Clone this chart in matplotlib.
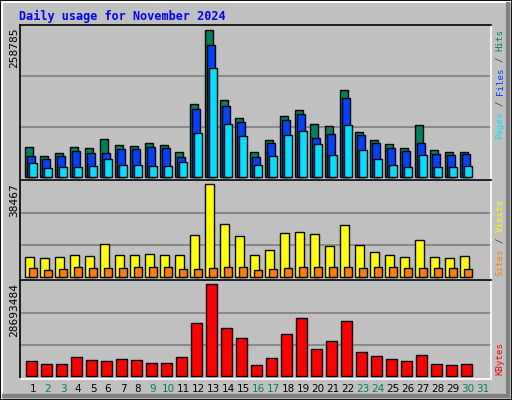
import matplotlib
matplotlib.use("Agg")
import matplotlib.pyplot as plt
from matplotlib.patches import Rectangle
from matplotlib.lines import Line2D

days = list(range(1, 31))
weekend_days = [2, 3, 9, 10, 16, 17, 23, 24, 30, 31]

hits = [51500, 35700, 41000, 51500, 49800, 65600, 55000, 53300, 58500, 55000,
        42700, 127000, 258785, 134100, 102500, 42700, 63800, 106000, 116500, 91900,
        88400, 151600, 77900, 63800, 56800, 49800, 90200, 46300, 42700, 42700]
files = [35700, 30400, 35700, 44500, 41000, 41000, 48000, 48000, 51500, 49800,
         34000, 118300, 232400, 123500, 95400, 34000, 58500, 98900, 109500, 67300,
         74400, 137600, 72600, 58500, 49800, 44500, 58500, 39200, 37500, 39200]
pages = [23400, 14600, 16400, 16400, 18100, 30400, 19900, 19900, 18100, 18100,
         25200, 76100, 190300, 91900, 70800, 19900, 35700, 72600, 79600, 56800,
         37500, 90200, 46300, 30400, 19900, 16400, 37500, 16400, 16400, 18100]
visits = [8060, 7640, 8060, 8890, 8470, 13470, 8890, 8890, 9310, 8890,
          8890, 17220, 38467, 21810, 16810, 8890, 10970, 18060, 18470, 17640,
          12640, 21390, 13060, 10140, 8890, 8060, 15140, 8060, 7640, 8470]
sites = [3470, 2640, 3060, 3890, 3470, 3470, 3470, 3890, 3890, 3890,
         3060, 3060, 3470, 3890, 3890, 2640, 3060, 3470, 3890, 3890,
         3890, 3890, 3470, 3890, 3890, 3470, 3470, 3470, 3470, 3060]
kbytes = [4503000, 3560000, 3560000, 5760000, 4817000, 4503000, 5131000, 4817000, 3875000, 3875000,
          5760000, 16441000, 28693484, 14870000, 11729000, 3246000, 5445000, 12985000, 18012000, 8273000,
          10786000, 17069000, 7330000, 6074000, 5131000, 4503000, 6388000, 3560000, 3246000, 3560000]

BG = "#C0C0C0"
C_HITS, C_FILES, C_PAGES = "#00805C", "#0040FF", "#00E0FF"
C_VISITS, C_SITES, C_KB = "#FFFF00", "#FF8000", "#FF0000"
MONO = "DejaVu Sans Mono"

W, H = 512, 400
fig = plt.figure(figsize=(W / 100, H / 100), dpi=100, facecolor=BG)

def px(x, y):
    return x / W, 1 - y / H

# outer 3D frame
fig.patches.append(Rectangle((0, 0), 1, 1, transform=fig.transFigure, fill=False,
                             edgecolor="black", lw=2))
fig.add_artist(Line2D([2 / W, 2 / W], [2 / H, 1 - 2 / H], color="white", lw=1.5))
fig.add_artist(Line2D([2 / W, 1 - 2 / W], [1 - 2 / H, 1 - 2 / H], color="white", lw=1.5))
fig.add_artist(Line2D([1 - 4 / W, 1 - 4 / W], [4 / H, 1 - 4 / H], color="#808080", lw=3))
fig.add_artist(Line2D([4 / W, 1 - 4 / W], [4 / H, 4 / H], color="#808080", lw=3))

def make_ax(top, bottom):
    l, b = px(20, bottom)
    ax = fig.add_axes([l, b, 471 / W, (bottom - top) / H])
    ax.set_facecolor(BG)
    ax.set_xlim(0.133, 31.53)
    ax.set_xticks([])
    ax.set_yticks([])
    for s in ["top", "left"]:
        ax.spines[s].set_color("black")
    for s in ["bottom", "right"]:
        ax.spines[s].set_color("white")
    for s in ax.spines.values():
        s.set_linewidth(1.2)
    return ax

def finish(ax, vmax, top_gap, bot_gap, span):
    unit = vmax / span
    ax.set_ylim(-bot_gap * unit, vmax + top_gap * unit)
    for f in (0.34, 0.685):
        ax.axhline(vmax * f, color="#808080", lw=1.2, zorder=0)

bar_kw = dict(edgecolor="black", linewidth=1, align="edge", zorder=2)

# panel 1: hits / files / pages
ax1 = make_ax(25, 180)
ax1.bar([d - 0.51 for d in days], hits, 0.49, color=C_HITS, **bar_kw)
ax1.bar([d - 0.38 for d in days], files, 0.49, color=C_FILES, **bar_kw)
ax1.bar([d - 0.25 for d in days], pages, 0.49, color=C_PAGES, **bar_kw)
finish(ax1, max(hits), 4.5, 3.3, 147.2)

# panel 2: visits / sites
ax2 = make_ax(180, 280)
ax2.bar([d - 0.51 for d in days], visits, 0.56, color=C_VISITS, **bar_kw)
ax2.bar([d - 0.25 for d in days], sites, 0.49, color=C_SITES, **bar_kw)
finish(ax2, max(visits), 4.3, 3.3, 92.3)

# panel 3: kbytes
ax3 = make_ax(280, 379)
ax3.bar([d - 0.45 for d in days], kbytes, 0.69, color=C_KB, **bar_kw)
finish(ax3, max(kbytes), 4.3, 3.3, 91.4)

# title and max labels
fig.text(*px(19, 16), "Daily usage for November 2024", color="#0000FF",
         family=MONO, weight="bold", fontsize=8.5, va="center", ha="left")
for y, val in [(28, max(hits)), (183, max(visits)), (283, max(kbytes))]:
    fig.text(*px(14, y), str(val), rotation=90, family=MONO, fontsize=8,
             ha="center", va="top")

# right side legends (stacked rotated pieces)
def side_label(y0, parts, cw=5.5):
    y = y0
    for txt, col in parts:
        fig.text(*px(500, y), txt, rotation=90, family=MONO, fontsize=6.6,
                 color=col, ha="center", va="top")
        y += (len(txt) + 1) * cw

side_label(29, [("Hits", C_HITS), ("/", "#404040"), ("Files", C_FILES),
                ("/", "#404040"), ("Pages", C_PAGES)])
side_label(199, [("Visits", C_VISITS), ("/", "#404040"), ("Sites", C_SITES)])
side_label(342, [("KBytes", C_KB)])

# day labels
for d in range(1, 32):
    col = "#00805C" if d in weekend_days else "black"
    fig.text(*px(20 + (d - 0.133) * 15, 389), str(d), color=col,
             fontsize=7.5, ha="center", va="center")

fig.savefig("out.png", dpi=100, facecolor=BG)
